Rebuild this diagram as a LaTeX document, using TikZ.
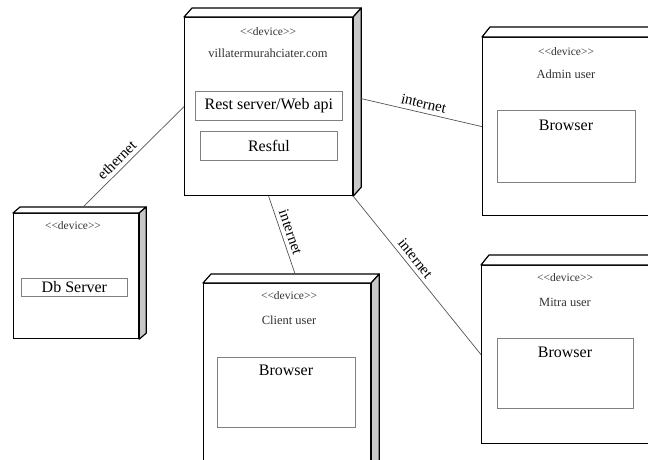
\documentclass[tikz,border=0pt]{standalone}
\usepackage{fontspec}
\setmainfont{Liberation Serif}
\usetikzlibrary{calc}
\definecolor{sidegray}{HTML}{C8C8C8}
\definecolor{partline}{HTML}{808080}
\definecolor{linkline}{HTML}{555555}
\definecolor{smalltext}{HTML}{333333}
% top and right faces of a device box: node name, depth right, depth up
\newcommand\devfaces[3]{%
  \draw[line width=1.2pt, fill=white, line join=round]
    (#1.north west) -- ++(#2,-#3) -- ($(#1.north east)+(#2,-#3)$) -- (#1.north east) -- cycle;
  \draw[line width=1.2pt, fill=sidegray, line join=round]
    (#1.north east) -- ++(#2,-#3) -- ($(#1.south east)+(#2,-#3)$) -- (#1.south east) -- cycle;
}
% stereotype text, written without the guillemet ligature
\newcommand\devstereo{{<}{<}device{>}{>}}
\begin{document}
\begin{tikzpicture}[x=1pt,y=-1pt,
  front/.style={draw=black, line width=1.2pt, fill=white, anchor=north west, inner sep=0pt},
  part/.style={draw=partline, line width=0.8pt, anchor=north west, inner sep=0pt},
  stereo/.style={text=smalltext, font=\fontsize{11.5}{12}\selectfont},
  devname/.style={text=smalltext, font=\fontsize{12.5}{13}\selectfont},
  bigtext/.style={font=\fontsize{16}{17}\selectfont},
  link/.style={draw=linkline, line width=0.7pt},
  linklabel/.style={font=\fontsize{15}{16}\selectfont, sloped, above, inner sep=4pt}
]
\clip (0,0) rectangle (648,459);
\fill[white] (0,0) rectangle (648,459);

% web server
\node[front, minimum width=168pt, minimum height=178pt] (villa) at (184,17) {};
\devfaces{villa}{8}{9}
\node[stereo] (villaS) at (268,32) {\devstereo};
\node[devname] (villaN) at (268,53) {villatermurahciater.com};
\node[part, minimum width=147pt, minimum height=29pt] (rest) at (195,91) {};
\node[bigtext] (restT) at (rest.center) {Rest server/Web api};
\node[part, minimum width=137pt, minimum height=29pt] (resful) at (200,131) {};
\node[bigtext] (resfulT) at (resful.center) {Resful};

% database server
\node[front, minimum width=125pt, minimum height=125pt] (db) at (13,213) {};
\devfaces{db}{7}{6}
\node[stereo] (dbS) at (73,226) {\devstereo};
\node[part, minimum width=106pt, minimum height=18pt] (dbpart) at (21,278) {};
\node[bigtext] (dbT) at (dbpart.center) {Db Server};

% admin client
\node[front, minimum width=168pt, minimum height=178pt] (admin) at (482,37) {};
\devfaces{admin}{8}{10}
\node[stereo] (adminS) at (566,52) {\devstereo};
\node[devname] (adminN) at (566,74) {Admin user};
\node[part, minimum width=138pt, minimum height=72pt] (adminB) at (497,110) {};
\node[bigtext] (adminBT) at (566,125) {Browser};

% mitra client
\node[front, minimum width=168pt, minimum height=178pt] (mitra) at (481,265) {};
\devfaces{mitra}{8}{10}
\node[stereo] (mitraS) at (565,278) {\devstereo};
\node[devname] (mitraN) at (565,302) {Mitra user};
\node[part, minimum width=136pt, minimum height=70pt] (mitraB) at (497,338) {};
\node[bigtext] (mitraBT) at (565,352) {Browser};

% end-user client
\node[front, minimum width=167pt, minimum height=200pt] (client) at (203,283) {};
\devfaces{client}{8}{9}
\node[stereo] (clientS) at (289,296) {\devstereo};
\node[devname] (clientN) at (289,320) {Client user};
\node[part, minimum width=138pt, minimum height=70pt] (clientB) at (217,357) {};
\node[bigtext] (clientBT) at (286,370) {Browser};

% communication paths
\draw[link] ([shift={(7,-6)}]db.north) -- node[linklabel, pos=0.4] {ethernet} (villa.west);
\draw[link] ([shift={(8,-8)}]villa.east) -- node[linklabel, midway] {internet} (admin.west);
\draw[link] (villa.south) -- node[linklabel, midway] {internet} ([shift={(8,-9)}]client.north);
\draw[link] (villa.south east) -- node[linklabel, pos=0.43] {internet} (mitra.west);
\end{tikzpicture}
\end{document}
